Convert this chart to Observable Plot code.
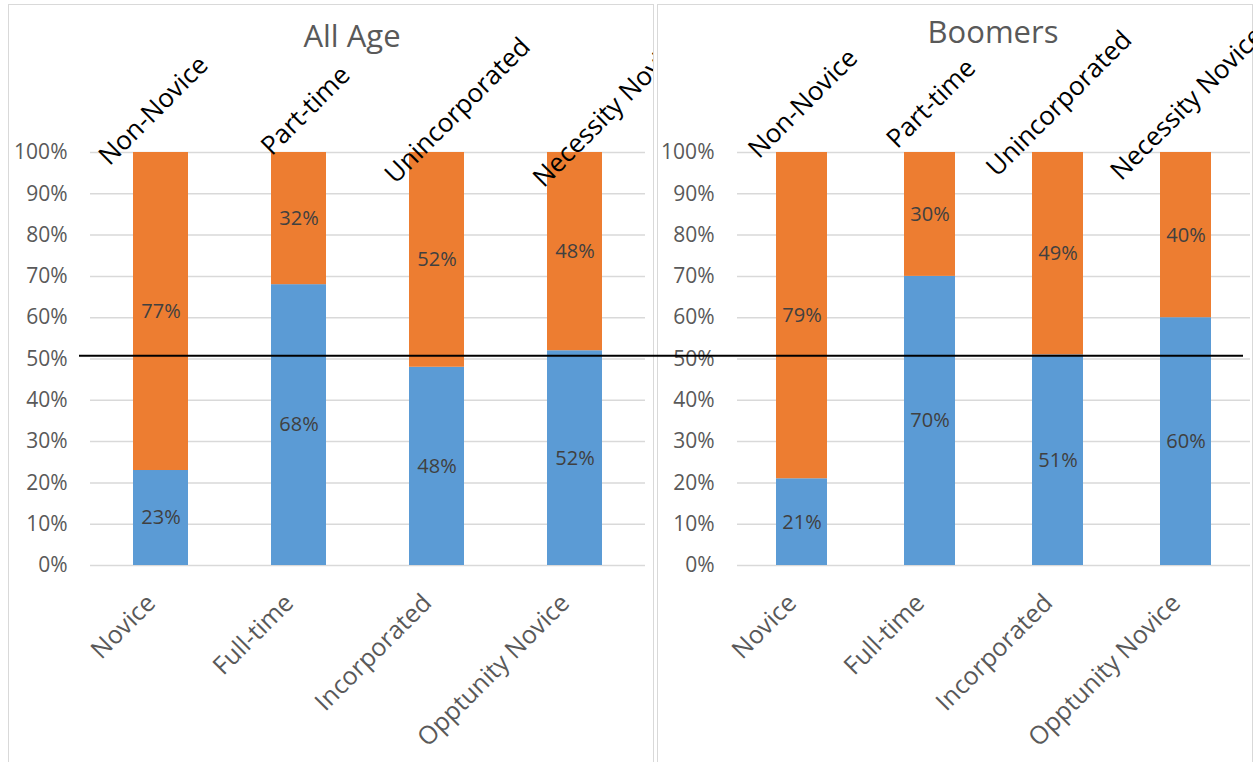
<!DOCTYPE html>
<html><head><meta charset="utf-8">
<script src="https://cdn.jsdelivr.net/npm/d3@7"></script>
<script src="https://cdn.jsdelivr.net/npm/@observablehq/plot@0.6"></script>
<style>
html,body{margin:0;padding:0;background:#fff;}
#page{position:relative;width:1257px;height:762px;overflow:hidden;background:#fff;}
.panel{position:absolute;border:1px solid #d9d9d9;}
.panel svg{position:absolute;left:0;top:0;}
#left{left:8px;top:4px;width:644px;height:770px;overflow:hidden;}
#right{left:657px;top:4px;width:594px;height:770px;clip-path:polygon(-700px 0,100% 0,100% 100%,-700px 100%);}
</style></head><body>
<div id="page"><div id="left" class="panel"></div><div id="right" class="panel"></div></div>
<script>
const categories = ["Novice", "Full-time", "Incorporated", "Opptunity Novice"];
const topLabels = ["Non-Novice", "Part-time", "Unincorporated", "Necessity Novice"];
const allAgeLower = [23, 68, 48, 52];
const allAgeUpper = [77, 32, 52, 48];
const boomersLower = [21, 70, 51, 60];
const boomersUpper = [79, 30, 49, 40];
const yTicks = [0, 10, 20, 30, 40, 50, 60, 70, 80, 90, 100];
const referenceLine = 50.8;
const seriesNames = ["lower", "upper"];
const seriesColors = ["#5B9BD5", "#ED7D31"];
const FONT = "'Open Sans', sans-serif";

function topLabelMark(dx, dy) {
  const tops = categories.map((c, i) => ({cat: c, label: topLabels[i]}));
  return Plot.text(tops, {x: "cat", text: "label", frameAnchor: "top", rotate: -45, dx, dy, fill: "#000", fontSize: 26, fontFamily: FONT});
}

function makeChart(cfg) {
  const rows = [];
  categories.forEach((c, i) => {
    rows.push({cat: c, series: "lower", value: cfg.lower[i], mid: cfg.lower[i] / 2});
    rows.push({cat: c, series: "upper", value: cfg.upper[i], mid: cfg.lower[i] + cfg.upper[i] / 2});
  });
  const marks = [
    Plot.ruleY(yTicks, {stroke: "#d9d9d9", strokeWidth: 1.5}),
    Plot.barY(rows, Plot.stackY({x: "cat", y: "value", fill: "series", order: seriesNames})),
    Plot.text(rows, {x: "cat", y: "mid", text: d => d.value + "%", fill: "#404040", fontSize: 20, fontFamily: FONT}),
    Plot.text(yTicks, {y: d => d, text: d => d + "%", frameAnchor: "left", textAnchor: "end", dx: -23, fill: "#595959", fontSize: 21, fontFamily: FONT}),
    Plot.text(categories, {x: d => d, text: d => d, frameAnchor: "bottom", rotate: -45, textAnchor: "end", dx: -4, dy: 39, fill: "#595959", fontSize: 25, fontFamily: FONT}),
    Plot.text([cfg.title], {text: d => d, frameAnchor: "top", dy: cfg.titleDy, dx: cfg.titleDx, fill: "#595959", fontSize: 31, fontFamily: FONT})
  ];
  if (cfg.topOnMain) marks.push(topLabelMark(cfg.topDx, cfg.topDy));
  if (cfg.rule) marks.push(Plot.ruleY([referenceLine], {stroke: "#000", strokeWidth: 2, insetLeft: cfg.ruleInsetLeft, insetRight: cfg.ruleInsetRight}));
  const chart = Plot.plot({
    width: cfg.width, height: 765,
    marginTop: 147, marginBottom: 205, marginLeft: cfg.marginLeft, marginRight: cfg.marginRight,
    style: {overflow: "visible", background: "transparent", fontFamily: FONT},
    x: {domain: categories, paddingInner: 0.6, paddingOuter: 0.3, axis: null},
    y: {domain: [0, 100], axis: null},
    color: {domain: seriesNames, range: seriesColors},
    marks
  });
  document.getElementById(cfg.el).appendChild(chart);
  if (!cfg.topOnMain) {
    // secondary (top) category axis with its own spacing, as in the reference
    const top = Plot.plot({
      width: cfg.width, height: 765,
      marginTop: 147, marginBottom: 205, marginLeft: cfg.topMarginLeft, marginRight: cfg.topMarginRight,
      style: {overflow: "visible", background: "transparent", fontFamily: FONT},
      x: {type: "point", domain: categories, padding: 0, axis: null},
      marks: [topLabelMark(cfg.topDx, cfg.topDy)]
    });
    document.getElementById(cfg.el).appendChild(top);
  }
}

makeChart({el: "left", title: "All Age", lower: allAgeLower, upper: allAgeUpper,
  width: 644, marginLeft: 81, marginRight: 8, titleDx: -16, titleDy: -128,
  topOnMain: false, topMarginLeft: 141, topMarginRight: 46, topDx: -5, topDy: -49, rule: false});
makeChart({el: "right", title: "Boomers", lower: boomersLower, upper: boomersUpper,
  width: 594, marginLeft: 79, marginRight: 2, titleDx: -1, titleDy: -132,
  topOnMain: true, topDx: -6, topDy: -56,
  rule: true, ruleInsetLeft: -658, ruleInsetRight: 7});
</script>
</body></html>
